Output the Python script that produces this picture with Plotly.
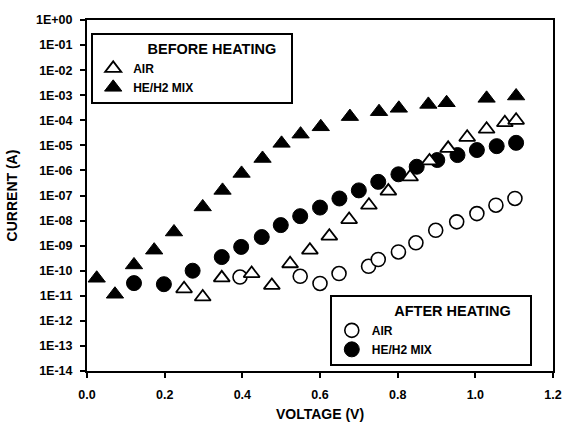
import plotly.graph_objects as go

# BEFORE HEATING - HE/H2 MIX (filled triangles)
before_mix_v = [0.025, 0.072, 0.121, 0.173, 0.224, 0.298, 0.349, 0.398, 0.452, 0.501,
                0.550, 0.602, 0.677, 0.752, 0.803, 0.879, 0.926, 1.029, 1.105]
before_mix_i = [5e-11, 1.15e-11, 1.7e-10, 6.6e-10, 3.5e-9, 3.5e-8, 1.6e-7, 7.6e-7, 3e-6, 1.2e-5,
                2.8e-5, 5.5e-5, 1.4e-4, 2.2e-4, 3e-4, 4.3e-4, 5e-4, 7.5e-4, 9.3e-4]

# BEFORE HEATING - AIR (open triangles)
before_air_v = [0.250, 0.298, 0.347, 0.424, 0.476, 0.523, 0.574, 0.624, 0.675, 0.726,
                0.776, 0.832, 0.882, 0.930, 0.979, 1.029, 1.076, 1.105]
before_air_i = [1.9e-11, 9e-12, 5.2e-11, 7.7e-11, 2.6e-11, 1.9e-10, 6.6e-10, 2.4e-9, 1.1e-8, 4.1e-8,
                1.5e-7, 5.5e-7, 2.4e-6, 7.6e-6, 2.1e-5, 4.4e-5, 8e-5, 1e-4]

# AFTER HEATING - AIR (open circles)
after_air_v = [0.394, 0.549, 0.600, 0.649, 0.725, 0.750, 0.802, 0.847, 0.898, 0.952,
               1.004, 1.053, 1.102]
after_air_i = [5.6e-11, 6e-11, 3.1e-11, 7.7e-11, 1.5e-10, 2.8e-10, 5.6e-10, 1.3e-9, 4.1e-9, 8.9e-9,
               1.9e-8, 4.1e-8, 7.6e-8]

# AFTER HEATING - HE/H2 MIX (filled circles)
after_mix_v = [0.121, 0.198, 0.272, 0.347, 0.397, 0.450, 0.499, 0.549, 0.600, 0.650,
               0.700, 0.750, 0.802, 0.849, 0.902, 0.954, 1.004, 1.055, 1.105]
after_mix_i = [3.2e-11, 2.9e-11, 1e-10, 3.5e-10, 8.9e-10, 2.2e-9, 6.6e-9, 1.5e-8, 3.3e-8, 7.6e-8,
               1.6e-7, 3.5e-7, 7e-7, 1.4e-6, 2.6e-6, 4.1e-6, 6.5e-6, 9.3e-6, 1.26e-5]

y_exponents = list(range(0, -15, -1))
y_tickvals = [10.0 ** e for e in y_exponents]
y_ticktext = ["1E+00"] + ["1E-%02d" % (-e) for e in y_exponents[1:]]
x_tickvals = [0.0, 0.2, 0.4, 0.6, 0.8, 1.0, 1.2]
x_ticktext = ["0.0", "0.2", "0.4", "0.6", "0.8", "1.0", "1.2"]

FONT = "Liberation Sans, Arial, sans-serif"
NB = "\u00a0"

fig = go.Figure()
fig.add_trace(go.Scatter(x=before_mix_v, y=before_mix_i, mode="markers", name="HE/H2 MIX",
                         legend="legend", legendrank=2,
                         marker=dict(symbol="triangle-up", size=15, color="black",
                                     line=dict(color="black", width=1))))
fig.add_trace(go.Scatter(x=after_mix_v, y=after_mix_i, mode="markers", name="HE/H2 MIX",
                         legend="legend2", legendrank=2,
                         marker=dict(symbol="circle", size=15, color="black",
                                     line=dict(color="black", width=1))))
fig.add_trace(go.Scatter(x=after_air_v, y=after_air_i, mode="markers", name="AIR",
                         legend="legend2", legendrank=1,
                         marker=dict(symbol="circle", size=14, color="white",
                                     line=dict(color="black", width=1.6))))
fig.add_trace(go.Scatter(x=before_air_v, y=before_air_i, mode="markers", name="AIR",
                         legend="legend", legendrank=1,
                         marker=dict(symbol="triangle-up", size=14, color="white",
                                     line=dict(color="black", width=1.8))))

axis_common = dict(showline=True, linecolor="black", linewidth=2, mirror=True,
                   showgrid=False, zeroline=False, ticks="outside", ticklen=5,
                   tickwidth=1.5, tickcolor="black", automargin=False,
                   tickfont=dict(family=FONT, size=12.5, color="black", weight="bold"))

fig.update_xaxes(range=[0, 1.2], tickvals=x_tickvals, ticktext=x_ticktext,
                 ticklabelstandoff=6, ticklabeloverflow="allow",
                 title=dict(text="VOLTAGE (V)", font=dict(family=FONT, size=14, color="black", weight="bold")),
                 **axis_common)
fig.update_yaxes(type="log", range=[-14, 0], tickvals=y_tickvals, ticktext=y_ticktext,
                 ticklabelstandoff=5,
                 title=dict(text="CURRENT (A)", font=dict(family=FONT, size=14, color="black", weight="bold")),
                 **axis_common)

legend_common = dict(bgcolor="white", bordercolor="black", borderwidth=2,
                     font=dict(family=FONT, size=12, color="black", weight="bold"),
                     xanchor="left", yanchor="top", itemclick=False, tracegroupgap=0)

fig.update_layout(
    width=564, height=422,
    margin=dict(l=87, r=11, t=20, b=51, autoexpand=False),
    paper_bgcolor="white", plot_bgcolor="white",
    showlegend=True,
    legend=dict(x=0.009, y=0.963,
                title=dict(text=NB * 13 + "BEFORE HEATING" + NB * 3,
                           font=dict(family=FONT, size=14.5, color="black", weight="bold"),
                           side="top"),
                **legend_common),
    legend2=dict(x=0.521, y=0.2165,
                 title=dict(text=NB * 15 + "AFTER HEATING" + NB * 4,
                            font=dict(family=FONT, size=14.5, color="black", weight="bold"),
                            side="top"),
                 **legend_common),
)

fig.write_html(
    "out.html",
    config={"displayModeBar": False},
    post_script="document.body.style.margin='0';document.documentElement.style.overflow='hidden';",
)
